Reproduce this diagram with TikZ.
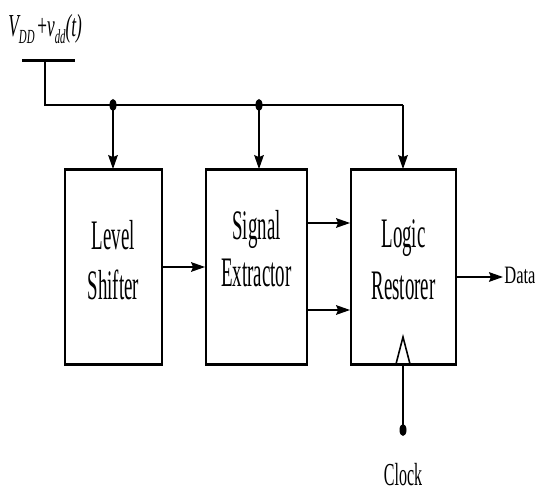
\documentclass[tikz,border=0pt]{standalone}
\usepackage{fontspec}
\setmainfont{Liberation Serif}
\usetikzlibrary{arrows.meta}
\tikzset{
  wire/.style={line width=1pt},
  arr/.style={line width=0.85pt,-{Stealth[length=7pt,width=4.8pt,inset=1pt]}},
  block/.style={draw,line width=0.9pt,inner sep=0pt,minimum height=97pt},
  edge/.style={line width=1.4pt},
  lbl/.style={anchor=base,inner sep=0pt,font=\fontsize{21}{25}\selectfont},
  dot/.style={fill=black,draw=none},
}
\newcommand{\cond}[2][0.45]{\scalebox{#1}[1]{#2}}
\begin{document}
\begin{tikzpicture}[x=0.5pt,y=-0.5pt]
\useasboundingbox (0,0) rectangle (535,491);
% blocks
\node[block,minimum width=48.5pt] (LS) at (113.5,267) {};
\node[block,minimum width=50.5pt] (SE) at (256.5,267) {};
\node[block,minimum width=52.5pt] (LR) at (403.5,267) {};
\foreach \b in {LS,SE,LR}{
  \draw[edge] (\b.north west) -- (\b.north east);
  \draw[edge] (\b.south west) -- (\b.south east);
}
% labels
\node[lbl] (t1) at (113.5,250) {\cond{Level}};
\node[lbl] (t2) at (113.5,300) {\cond{Shifter}};
\node[lbl] (t3) at (256.5,240) {\cond{Signal}};
\node[lbl] (t4) at (256.5,287) {\cond{Extractor}};
\node[lbl] (t5) at (403.5,248) {\cond{Logic}};
\node[lbl] (t6) at (403.5,300) {\cond{Restorer}};
% supply
\node[anchor=base west,inner sep=0pt,font=\fontsize{16}{18}\selectfont] (vdd) at (8,37)
  {\cond[0.54]{\itshape V\raisebox{-0.45ex}{\fontsize{10}{12}\selectfont DD}\upshape\,+\itshape v\raisebox{-0.45ex}{\fontsize{10}{12}\selectfont dd}(t)}};
\coordinate (s1) at (22,61);
\coordinate (s2) at (75,61);
\coordinate (sj) at (45,61);
\coordinate (b0) at (45,105);
\coordinate (d1) at (113,105);
\coordinate (d2) at (259,105);
\coordinate (b3) at (403,105);
\draw[line width=1.5pt] (s1) -- (s2);
\draw[wire] (sj) -- (b0) -- (b3);
\fill[dot] (d1) ellipse [x radius=3.5, y radius=6];
\fill[dot] (d2) ellipse [x radius=3.5, y radius=6];
\draw[arr] (d1) -- (d1 |- LS.north);
\draw[arr] (d2) -- (d2 |- SE.north);
\draw[arr] (b3) -- (b3 |- LR.north);
% block connections
\coordinate (y1) at (0,267);
\coordinate (y2) at (0,223);
\coordinate (y3) at (0,310);
\coordinate (y4) at (0,277);
\draw[arr] (LS.east |- y1) -- (SE.west |- y1);
\draw[arr] (SE.east |- y2) -- (LR.west |- y2);
\draw[arr] (SE.east |- y3) -- (LR.west |- y3);
\coordinate (dout) at (503,277);
\draw[arr] (LR.east |- y4) -- (dout);
\node[anchor=base west,inner sep=0pt,font=\fontsize{12.5}{14}\selectfont] (data) at (504,284) {\cond[0.66]{Data}};
% clock
\coordinate (ca) at (403,337);
\coordinate (cl) at (396,364);
\coordinate (cr) at (410,364);
\coordinate (cb) at (403,364);
\coordinate (cd) at (403,430);
\draw[line width=0.8pt] (cl) -- (ca) -- (cr);
\draw[line width=0.85pt] (cb) -- (cd);
\fill[dot] (cd) ellipse [x radius=3.5, y radius=6];
\node[anchor=base,inner sep=0pt,font=\fontsize{16}{18}\selectfont] (clk) at (403,485) {\cond[0.5]{Clock}};
\end{tikzpicture}
\end{document}
